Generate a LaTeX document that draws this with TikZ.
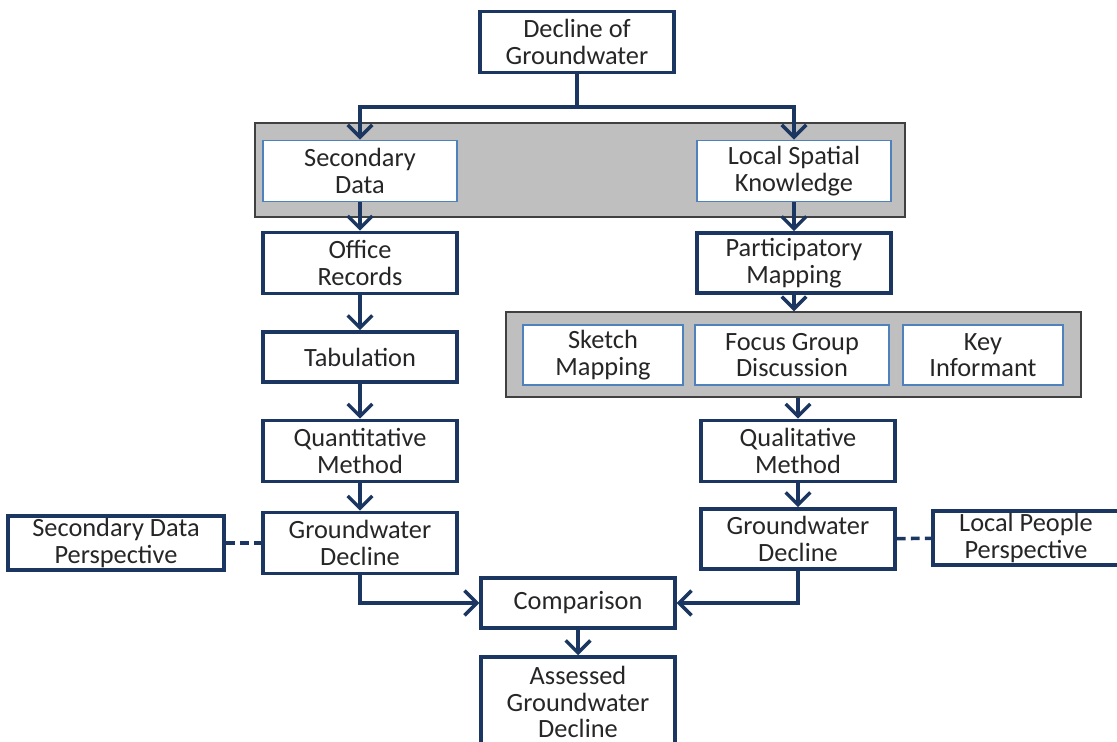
\documentclass[tikz,border=0pt]{standalone}
\usepackage{fontspec}
\setmainfont{Carlito}
\usetikzlibrary{arrows.meta}
\usetikzlibrary{positioning}
\definecolor{mnavy}{RGB}{27,55,97}
\definecolor{mlblue}{RGB}{79,129,189}
\definecolor{mgrey}{RGB}{191,191,191}
\tikzset{box/.style = {draw=mnavy, line width=2pt, fill=white, align=center,
                       text=black!85, minimum width=3.88cm, minimum height=1.22cm,
                       inner sep=1pt, font=\fontsize{15}{15}\selectfont},
         inbox/.style = {box, draw=mlblue, line width=0.9pt},
         group/.style = {draw=black!75, line width=0.7pt, fill=mgrey, inner sep=0pt},
         flow/.style = {draw=mnavy, line width=2pt,
                        -{Straight Barb[length=7pt, width=14pt, line width=2pt]}},
         link/.style = {draw=mnavy, line width=2pt, dash pattern=on 5pt off 3pt}}

\begin{document}
\begin{tikzpicture}[x=0.02cm, y=-0.02cm]
      \useasboundingbox (0, 0) rectangle (1117, 742);

      % grey groups
      \node [group, minimum width=13cm, minimum height=1.88cm] (grp1) at (580, 170) {};
      \node [group, minimum width=11.5cm, minimum height=1.7cm] (grp2) at (793.5, 354.5) {};

      \node [box] (decl) at (577, 42) {Decline of\\Groundwater};

      \node [inbox] (secdata) at (360, 171) {Secondary\\Data};
      \node [inbox] (local) at (794, 171) {Local Spatial\\Knowledge};

      \node [box] (office) at (360, 263) {Office\\Records};
      \node [box, minimum height=1cm] (tab) at (360, 357) {Tabulation};
      \node [box] (quant) at (360, 451) {Quantitative\\Method};
      \node [box] (gwleft) at (360, 543) {Groundwater\\Decline};
      \node [box, minimum width=4.32cm, minimum height=1.08cm] (sdp) at (116, 543) {Secondary Data\\Perspective};

      \node [box, minimum height=1.2cm] (partmap) at (794, 263) {Participatory\\Mapping};
      \node [inbox, minimum width=3.2cm, minimum height=1.2cm] (sketch) at (603, 355) {Sketch\\Mapping};
      \node [inbox, minimum height=1.2cm] (focus) at (792, 355) {Focus Group\\Discussion};
      \node [inbox, minimum width=3.2cm, minimum height=1.2cm] (key) at (983, 355) {Key\\Informant};
      \node [box] (qual) at (798, 451) {Qualitative\\Method};
      \node [box, minimum height=1.2cm] (gwright) at (798, 539) {Groundwater\\Decline};
      \node [box, minimum width=3.72cm, minimum height=1.08cm] (lpp) at (1026, 538) {Local People\\Perspective};

      \node [box, minimum height=1cm] (comp) at (578, 603) {Comparison};
      \node [box, minimum height=1.8cm] (assess) at (578, 702) {Assessed\\Groundwater\\Decline};

      \draw [flow] (decl.south) -- ++(0, 33) -| (secdata.north);
      \draw [flow] (decl.south) -- ++(0, 33) -| (local.north);

      \draw [flow] (secdata) -- (office);
      \draw [flow] (office) -- (tab);
      \draw [flow] (tab) -- (quant);
      \draw [flow] (quant) -- (gwleft);

      \draw [flow] (local) -- (partmap);
      \draw [flow] (partmap) -- (partmap |- grp2.north);
      \draw [flow] (grp2.south -| qual) -- (qual);
      \draw [flow] (qual) -- (gwright);

      \draw [flow] (gwleft.south) |- (comp.west);
      \draw [flow] (gwright.south) |- (comp.east);
      \draw [flow] (comp) -- (assess);

      \draw [link] (sdp) -- (gwleft);
      \draw [link] (gwright) -- (lpp);
\end{tikzpicture}
\end{document}
